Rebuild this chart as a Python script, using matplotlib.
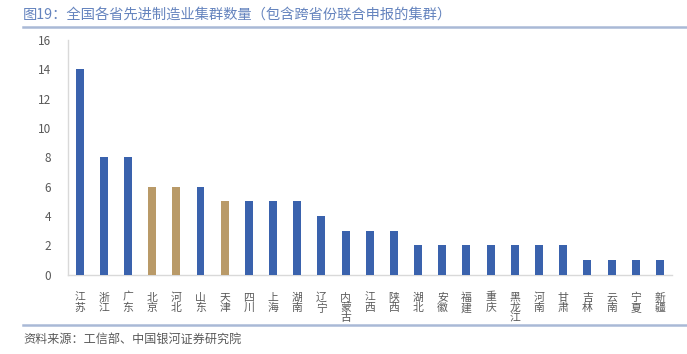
import matplotlib
matplotlib.use("Agg")
import matplotlib.pyplot as plt
from matplotlib.lines import Line2D

plt.rcParams['font.family'] = ['Noto Sans CJK SC', 'DejaVu Sans']

provinces = ["江苏", "浙江", "广东", "北京", "河北", "山东", "天津", "四川", "上海", "湖南",
             "辽宁", "内蒙古", "江西", "陕西", "湖北", "安徽", "福建", "重庆", "黑龙江", "河南",
             "甘肃", "吉林", "云南", "宁夏", "新疆"]
counts = [14, 8, 8, 6, 6, 6, 5, 5, 5, 5, 4, 3, 3, 3, 2, 2, 2, 2, 2, 2, 2, 1, 1, 1, 1]
highlight = ["北京", "河北", "天津"]
yticks = [0, 2, 4, 6, 8, 10, 12, 14, 16]

title = "图19：全国各省先进制造业集群数量（包含跨省份联合申报的集群）"
source = "资料来源：工信部、中国银河证券研究院"

blue = "#3A62AD"
gold = "#B99A68"
W, H = 687, 354
fig = plt.figure(figsize=(W / 100, H / 100), dpi=100)
ax = fig.add_axes([67.5 / W, (H - 274.5) / H, (672 - 67.5) / W, (274.5 - 40) / H])

colors = [gold if p in highlight else blue for p in provinces]
x = list(range(len(provinces)))
ax.bar(x, counts, width=0.33, color=colors, zorder=3)
ax.set_xlim(-0.5, len(provinces) - 0.5)
ax.set_ylim(0, 16)
ax.set_yticks(yticks)
ax.set_yticklabels([str(v) for v in yticks], fontsize=8.5, color="#595959")
ax.set_xticks(x)
ax.set_xticklabels(["\n".join(p) for p in provinces], fontsize=7.8, color="#595959",
                   linespacing=1.05, va="top")
ax.tick_params(axis="both", length=0)
ax.tick_params(axis="x", pad=13)
ax.tick_params(axis="y", pad=12)
for s in ["top", "right"]:
    ax.spines[s].set_visible(False)
for s in ["left", "bottom"]:
    ax.spines[s].set_color("#D9D9D9")
    ax.spines[s].set_linewidth(1.0)

fig.text(23 / W, 1 - 15 / H, title, fontsize=10.3, color="#6584BE", va="center", ha="left")
fig.add_artist(Line2D([23 / W, 1.0], [1 - 27 / H, 1 - 27 / H], color="#A9B9D6", lw=1.8,
                      transform=fig.transFigure))
fig.add_artist(Line2D([23 / W, 1.0], [1 - 325 / H, 1 - 325 / H], color="#A9B9D6", lw=1.8,
                      transform=fig.transFigure))
fig.text(23 / W, 1 - 339 / H, source, fontsize=8.7, color="#595959", va="center", ha="left",
         style="italic")

fig.savefig("out.png", dpi=100)
